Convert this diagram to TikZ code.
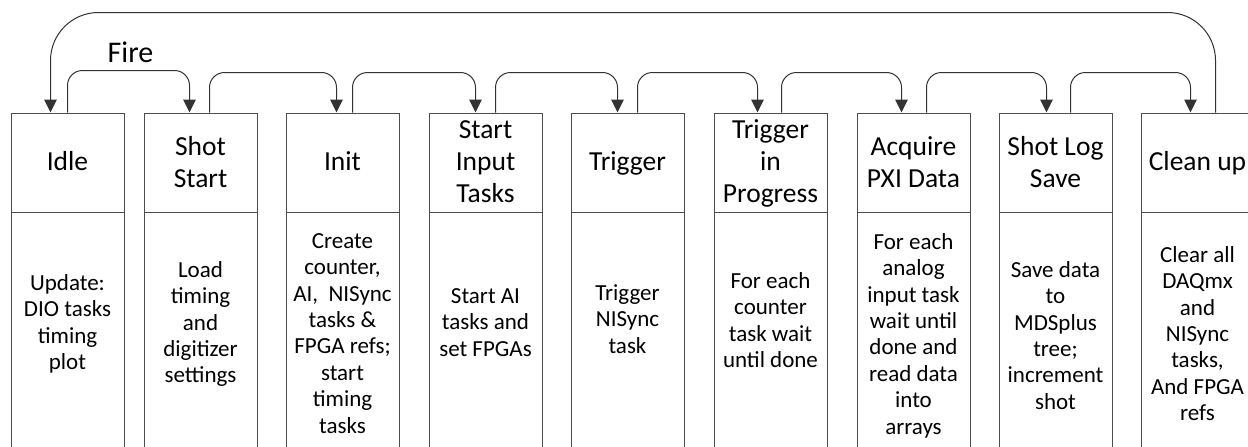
\documentclass[tikz,border=0pt]{standalone}
\usepackage{fontspec}
\setmainfont{Carlito}
\usetikzlibrary{arrows.meta}
\tikzset{
  cell/.style={draw=black!70, line width=1pt, rectangle, minimum width=113pt, inner sep=0pt},
  headcell/.style={cell, minimum height=99pt},
  bodycell/.style={cell, minimum height=258pt},
  hlbl/.style={anchor=north, inner sep=0pt, align=center, font=\fontsize{27.5}{32}\selectfont},
  blbl/.style={anchor=north, inner sep=0pt, align=center, font=\fontsize{23}{26.4}\selectfont},
  conn/.style={draw=black!80, line width=1pt, -{Triangle[length=13pt,width=12.5pt]}, rounded corners=15pt},
  loopconn/.style={conn, rounded corners=48pt}
}
\newcommand{\hs}{\rule{0pt}{24pt}}
\newcommand{\bs}{\rule{0pt}{20pt}}
\begin{document}
\begin{tikzpicture}[x=1pt,y=-1pt]
\useasboundingbox (0,0) rectangle (1248,447);
\clip (0,0) rectangle (1248,447);
\fill[white] (0,0) rectangle (1248,447);
% boxes
\foreach \i/\l in {1/11,2/144,3/286,4/429,5/571,6/714,7/857,8/999,9/1141}{
  \node[headcell] (h\i) at (\l+56.5,162.5) {};
  \node[bodycell] (c\i) at (\l+56.5,341) {};
}
% head labels (first baseline = y + 24)
\node[hlbl] (t1) at (67.5,146) {\hs Idle};
\node[hlbl] (t2) at (200.5,131) {\hs Shot\\Start};
\node[hlbl] (t3) at (342.5,146) {\hs Init};
\node[hlbl] (t4) at (485.5,114) {\hs Start\\Input\\Tasks};
\node[hlbl] (t5) at (627.5,146) {\hs Trigger};
\node[hlbl] (t6) at (770.5,114) {\hs Trigger\\in\\Progress};
\node[hlbl] (t7) at (913.5,131) {\hs Acquire\\PXI Data};
\node[hlbl] (t8) at (1055.5,131) {\hs Shot Log\\Save};
\node[hlbl] (t9) at (1197.5,146) {\hs Clean up};
% body labels (first baseline = y + 20)
\node[blbl] (d1) at (67.5,270) {\bs Update:\\DIO tasks\\timing\\plot};
\node[blbl] (d2) at (200.5,257) {\bs Load\\timing\\and\\digitizer\\settings};
\node[blbl] (d3) at (342.5,228) {\bs Create\\counter,\\AI,\ \ NISync\\tasks \&\\FPGA refs;\\start\\timing\\tasks};
\node[blbl] (d4) at (485.5,283) {\bs Start AI\\tasks and\\set FPGAs};
\node[blbl] (d5) at (627.5,280) {\bs Trigger\\NISync\\task};
\node[blbl] (d6) at (770.5,268) {\bs For each\\counter\\task wait\\until done};
\node[blbl] (d7) at (913.5,229) {\bs For each\\analog\\input task\\wait until\\done and\\read data\\into\\arrays};
\node[blbl] (d8) at (1055.5,257) {\bs Save data\\to\\MDSplus\\tree;\\increment\\shot};
\node[blbl] (d9) at (1197.5,242) {\bs Clear all\\DAQmx\\and\\NISync\\tasks,\\And FPGA\\refs};
% Fire label
\node[inner sep=0pt, anchor=base, font=\fontsize{30}{36}\selectfont] (fire) at (130.5,62) {Fire};
% step connectors
\draw[conn] ([xshift=57pt]h1.north west) |- ([xshift=46pt,yshift=42pt]h2.north west) -- ([xshift=46pt]h2.north west);
\draw[conn] ([xshift=66pt]h2.north west) |- ([xshift=51pt,yshift=40pt]h3.north west) -- ([xshift=51pt]h3.north west);
\draw[conn] ([xshift=67pt]h3.north west) |- ([xshift=47pt,yshift=40pt]h4.north west) -- ([xshift=47pt]h4.north west);
\draw[conn] ([xshift=67pt]h4.north west) |- ([xshift=47pt,yshift=40pt]h5.north west) -- ([xshift=47pt]h5.north west);
\draw[conn] ([xshift=67pt]h5.north west) |- ([xshift=44pt,yshift=40pt]h6.north west) -- ([xshift=44pt]h6.north west);
\draw[conn] ([xshift=68pt]h6.north west) |- ([xshift=45pt,yshift=40pt]h7.north west) -- ([xshift=45pt]h7.north west);
\draw[conn] ([xshift=70pt]h7.north west) |- ([xshift=48pt,yshift=40pt]h8.north west) -- ([xshift=48pt]h8.north west);
\draw[conn] ([xshift=72pt]h8.north west) |- ([xshift=50pt,yshift=40pt]h9.north west) -- ([xshift=50pt]h9.north west);
% return loop
\draw[loopconn] ([xshift=75pt]h9.north west) |- ([xshift=40pt,yshift=100pt]h1.north west) -- ([xshift=40pt]h1.north west);
\end{tikzpicture}
\end{document}
